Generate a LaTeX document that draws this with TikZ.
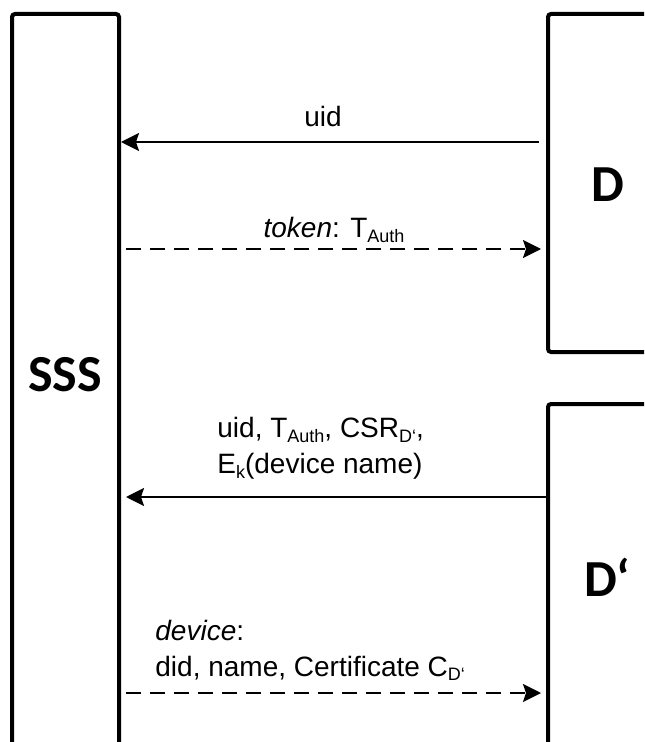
\documentclass[tikz,border=0pt]{standalone}
\usepackage{fontspec}
\setmainfont{Liberation Sans}
\newfontfamily\headfont{Carlito}
\usetikzlibrary{arrows.meta,fit}
\newcommand{\lowidx}[1]{\raisebox{-0.3ex}{\fontsize{9}{9}\selectfont #1}}
\tikzset{
  party/.style={draw, line width=2pt, rounded corners=1.5pt, inner sep=0pt},
  partyname/.style={font=\headfont\bfseries\fontsize{26}{26}\selectfont, inner sep=0pt},
  msglabel/.style={font=\fontsize{14}{18}\selectfont, align=left, inner sep=0pt},
  msg/.style={line width=1.1pt, -{Stealth[length=9pt,width=9pt,inset=1.5pt]}},
  reply/.style={msg, dash pattern=on 7.5pt off 4.5pt}
}

\begin{document}
\begin{tikzpicture}[x=0.5pt, y=-0.5pt]
  \useasboundingbox (0,0) rectangle (644,742);
  \clip (0,0) rectangle (644,742);

  % Parties
  \node[party, fit={(12,14) (119,800)}] (sss) {};
  \node[party, fit={(548,14) (720,352)}] (d) {};
  \node[party, fit={(548,404) (720,800)}] (dp) {};
  \node[partyname] (sss_name) at (65,375) {SSS};
  \node[partyname] (d_name) at (608,185) {D};
  \node[partyname] (dp_name) at (607,577) {D‘};

  % Message rows
  \coordinate (r1) at (0,142);
  \coordinate (r2) at (0,249);
  \coordinate (r3) at (0,497);
  \coordinate (r4) at (0,693);

  % Login
  \draw[msg, shorten <=3.5pt] (d.west |- r1) -- (sss.east |- r1);
  \node[msglabel, anchor=base] (uid_lbl) at (323,127) {uid};
  \draw[reply, shorten <=2.5pt, shorten >=2.5pt] (sss.east |- r2) -- (d.west |- r2);
  \node[msglabel, anchor=base] (token_lbl) at (334,238) {\textit{token}: T\lowidx{Auth}};

  % Device registration
  \draw[msg, shorten >=2.5pt] (dp.west |- r3) -- (sss.east |- r3);
  \node[msglabel, anchor=south west] (csr_lbl) at (217,480)
    {uid, T\lowidx{Auth}, CSR\lowidx{D‘},\\E\lowidx{k}(device name)};
  \draw[reply, shorten <=2.5pt, shorten >=2.5pt] (sss.east |- r4) -- (dp.west |- r4);
  \node[msglabel, anchor=south west] (device_lbl) at (155,681)
    {\textit{device}:\\did, name, Certificate C\lowidx{D‘}};
\end{tikzpicture}
\end{document}
